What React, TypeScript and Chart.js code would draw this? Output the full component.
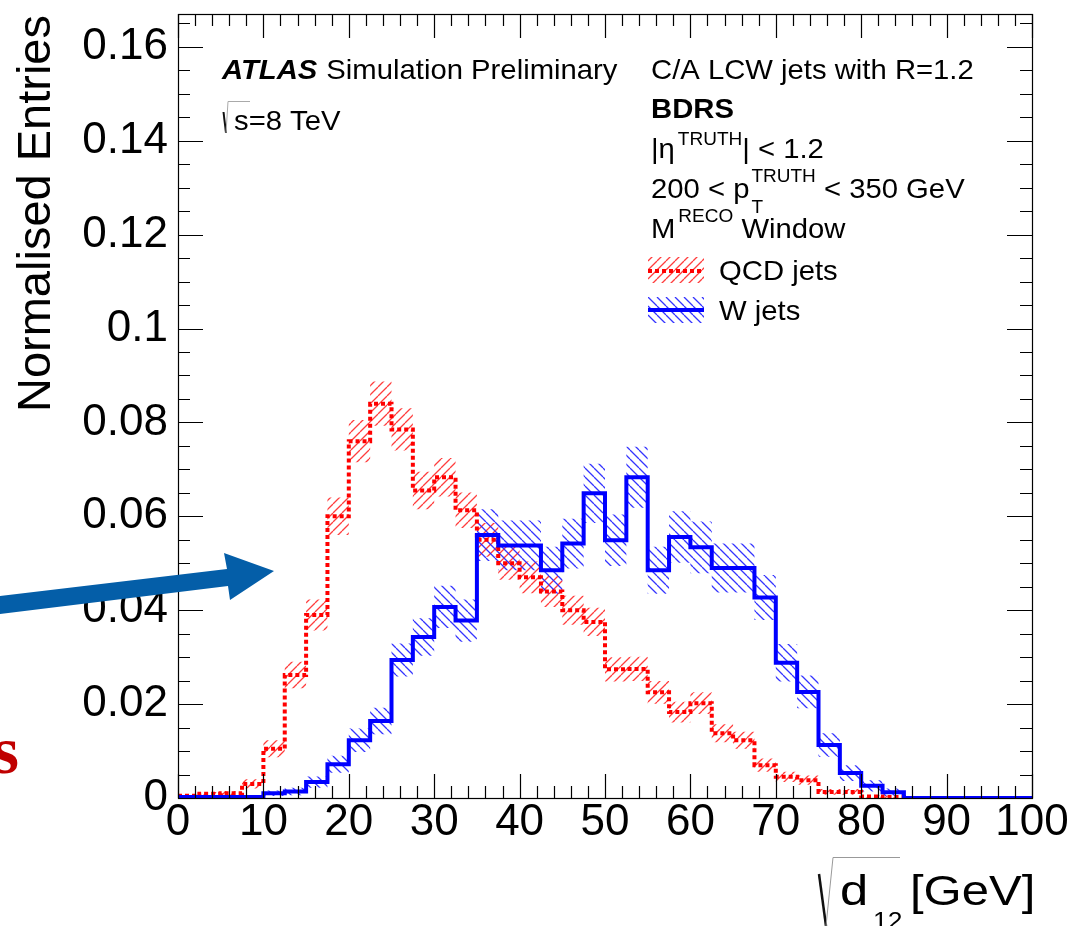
import React, { useEffect, useRef } from 'react';
import { Chart, registerables } from 'chart.js';

Chart.register(...registerables);

// ---- data ----
const BIN_EDGES = [0, 2.5, 5, 7.5, 10, 12.5, 15, 17.5, 20, 22.5, 25, 27.5, 30, 32.5, 35, 37.5, 40, 42.5, 45, 47.5, 50, 52.5, 55, 57.5, 60, 62.5, 65, 67.5, 70, 72.5, 75, 77.5, 80, 82.5, 85, 87.5, 90, 92.5, 95, 97.5, 100];

const QCD = [0.0005, 0.0009, 0.0010, 0.0030, 0.0105, 0.0262, 0.0390, 0.0600, 0.0760, 0.0840, 0.0785, 0.0655, 0.0683, 0.0613, 0.0550, 0.0500, 0.0470, 0.0440, 0.0400, 0.0375, 0.0274, 0.0275, 0.0225, 0.0183, 0.0202, 0.0138, 0.0123, 0.0070, 0.0045, 0.0038, 0.0013, 0.0013, 0.0003, 0.0002, 0, 0, 0, 0, 0, 0];
const QCD_ERR = [0.0003, 0.0004, 0.0005, 0.0010, 0.0018, 0.0028, 0.0033, 0.0040, 0.0045, 0.0047, 0.0045, 0.0040, 0.0041, 0.0038, 0.0036, 0.0035, 0.0034, 0.0033, 0.0031, 0.0030, 0.0026, 0.0026, 0.0024, 0.0022, 0.0023, 0.0019, 0.0018, 0.0014, 0.0011, 0.0010, 0.0006, 0.0006, 0.0003, 0.0002, 0, 0, 0, 0, 0, 0];

const WJETS = [0.0002, 0.0002, 0.0002, 0.0002, 0.0010, 0.0014, 0.0034, 0.0072, 0.0123, 0.0164, 0.0294, 0.0343, 0.0407, 0.0378, 0.0560, 0.0538, 0.0538, 0.0485, 0.0542, 0.0649, 0.0549, 0.0683, 0.0485, 0.0556, 0.0534, 0.0490, 0.0490, 0.0427, 0.0288, 0.0226, 0.0113, 0.0053, 0.0026, 0.0012, 0, 0, 0, 0, 0, 0];
const WJETS_ERR = [0, 0, 0, 0, 0.0006, 0.0008, 0.0012, 0.0018, 0.0025, 0.0028, 0.0035, 0.0040, 0.0045, 0.0045, 0.0055, 0.0053, 0.0053, 0.0050, 0.0053, 0.0063, 0.0055, 0.0065, 0.0050, 0.0055, 0.0055, 0.0052, 0.0052, 0.0048, 0.0040, 0.0035, 0.0025, 0.0017, 0.0012, 0.0008, 0, 0, 0, 0, 0, 0];

const X_TICKS = [0, 10, 20, 30, 40, 50, 60, 70, 80, 90, 100];
const Y_TICKS = [0, 0.02, 0.04, 0.06, 0.08, 0.1, 0.12, 0.14, 0.16];
const X_MIN = 0;
const X_MAX = 100;
const Y_MAX = 0.167;

const FONT = '"Liberation Sans", Arial, Helvetica, sans-serif';

function steps(vals: number[]) {
  const pts = vals.map((v, i) => ({ x: BIN_EDGES[i], y: v }));
  pts.push({ x: BIN_EDGES[BIN_EDGES.length - 1], y: vals[vals.length - 1] });
  return pts;
}

function makeHatch(color: string, dir: '/' | '\\') {
  const s = 9;
  const c = document.createElement('canvas');
  c.width = s;
  c.height = s;
  const g = c.getContext('2d')!;
  g.strokeStyle = color;
  g.lineWidth = 1.3;
  g.beginPath();
  for (const k of [-s, 0, s]) {
    if (dir === '/') {
      g.moveTo(k, s);
      g.lineTo(k + s, 0);
    } else {
      g.moveTo(k, 0);
      g.lineTo(k + s, s);
    }
  }
  g.stroke();
  return g.createPattern(c, 'repeat')!;
}

function stretched(ctx: CanvasRenderingContext2D, text: string, x: number, y: number, font: string, sx: number) {
  ctx.save();
  ctx.translate(x, y);
  ctx.scale(sx, 1);
  ctx.font = font;
  ctx.fillText(text, 0, 0);
  const w = ctx.measureText(text).width * sx;
  ctx.restore();
  return w;
}

export default function App() {
  const ref = useRef<HTMLCanvasElement | null>(null);

  useEffect(() => {
    const canvas = ref.current;
    if (!canvas) return;
    const redHatch = makeHatch('rgba(255,40,40,0.9)', '/');
    const blueHatch = makeHatch('rgba(30,30,255,0.9)', '\\');

    const qcdUp = QCD.map((v, i) => v + QCD_ERR[i]);
    const qcdLo = QCD.map((v, i) => Math.max(0, v - QCD_ERR[i]));
    const wUp = WJETS.map((v, i) => v + WJETS_ERR[i]);
    const wLo = WJETS.map((v, i) => Math.max(0, v - WJETS_ERR[i]));

    const clear = 'rgba(0,0,0,0)';

    const decor = {
      id: 'decor',
      afterDraw(chart: any) {
        const ctx: CanvasRenderingContext2D = chart.ctx;
        const { left, right, top, bottom } = chart.chartArea;
        const xs = chart.scales.x;
        const ys = chart.scales.y;
        ctx.save();

        // ticks (inside the frame, ROOT style)
        ctx.strokeStyle = '#000';
        ctx.lineWidth = 1.2;
        ctx.beginPath();
        for (let i = 0; i <= 50; i++) {
          const v = i * 2;
          const px = Math.round(xs.getPixelForValue(v)) + 0.5;
          const len = i % 5 === 0 ? 24 : 12;
          ctx.moveTo(px, bottom);
          ctx.lineTo(px, bottom - len);
          ctx.moveTo(px, top);
          ctx.lineTo(px, top + len);
        }
        for (let i = 0; i * 0.005 <= Y_MAX; i++) {
          const py = Math.round(ys.getPixelForValue(i * 0.005)) + 0.5;
          const len = i % 4 === 0 ? 25 : 12;
          ctx.moveTo(left, py);
          ctx.lineTo(left + len, py);
          ctx.moveTo(right, py);
          ctx.lineTo(right - len, py);
        }
        ctx.stroke();
        ctx.lineWidth = 1.2;
        ctx.strokeRect(left + 0.5, top + 0.5, right - left, bottom - top);

        ctx.fillStyle = '#000';
        ctx.textAlign = 'left';
        ctx.textBaseline = 'alphabetic';

        // Y title
        ctx.save();
        ctx.translate(50, 15);
        ctx.rotate(-Math.PI / 2);
        ctx.font = `47px ${FONT}`;
        ctx.textAlign = 'right';
        ctx.fillText('Normalised Entries', 0, 0);
        ctx.restore();

        // X title
        stretched(ctx, 'd', 840, 905, `43px ${FONT}`, 1.18);
        stretched(ctx, '12', 873, 929, `24px ${FONT}`, 1.1);
        stretched(ctx, '[GeV]', 910, 905, `43px ${FONT}`, 1.14);
        ctx.strokeStyle = '#111';
        ctx.lineWidth = 2.5;
        ctx.beginPath();
        ctx.moveTo(819, 874);
        ctx.lineTo(826, 926);
        ctx.stroke();
        ctx.strokeStyle = '#999';
        ctx.lineWidth = 1;
        ctx.beginPath();
        ctx.moveTo(826, 926);
        ctx.lineTo(833, 857.5);
        ctx.lineTo(900, 857.5);
        ctx.stroke();

        // ATLAS label
        const FS = 28;
        const SX = 1.045;
        const F = `${FS}px ${FONT}`;
        ctx.fillStyle = '#000';
        const aw = stretched(ctx, 'ATLAS', 222, 79, `italic bold ${FS}px ${FONT}`, SX);
        stretched(ctx, 'Simulation Preliminary', 222 + aw + 9, 79, F, SX);

        // sqrt(s)
        ctx.strokeStyle = '#111';
        ctx.lineWidth = 2;
        ctx.beginPath();
        ctx.moveTo(223.5, 112);
        ctx.lineTo(226, 133);
        ctx.stroke();
        ctx.strokeStyle = '#aaa';
        ctx.lineWidth = 1;
        ctx.beginPath();
        ctx.moveTo(226, 133);
        ctx.lineTo(228, 101.5);
        ctx.lineTo(250, 101.5);
        ctx.stroke();
        stretched(ctx, 's=8 TeV', 234, 130, F, SX);

        // right block
        const X0 = 651;
        const SUPF = `19px ${FONT}`;
        stretched(ctx, 'C/A LCW jets with R=1.2', X0, 79, F, SX);
        stretched(ctx, 'BDRS', X0, 118, `bold ${FS}px ${FONT}`, SX);

        // |eta^TRUTH| < 1.2
        let x = X0 + stretched(ctx, '|\u03b7', X0, 158, F, SX) + 3;
        x += stretched(ctx, 'TRUTH', x, 145, SUPF, 1.0);
        stretched(ctx, '| < 1.2', x, 158, F, SX);

        // 200 < pT^TRUTH < 350 GeV
        x = X0 + stretched(ctx, '200 < p', X0, 198, F, SX) + 2;
        stretched(ctx, 'T', x, 213, SUPF, 1.0);
        x += stretched(ctx, 'TRUTH', x, 182, SUPF, 1.0);
        stretched(ctx, ' < 350 GeV', x, 198, F, SX);

        // M^RECO Window
        x = X0 + stretched(ctx, 'M', X0, 238, F, SX) + 3;
        x += stretched(ctx, 'RECO', x, 222, SUPF, 1.0);
        stretched(ctx, ' Window', x, 238, F, SX);

        // legend
        const LX = 648, LW = 56;
        ctx.fillStyle = redHatch;
        ctx.fillRect(LX, 257, LW, 26);
        ctx.fillStyle = blueHatch;
        ctx.fillRect(LX, 297, LW, 26);
        ctx.lineWidth = 4;
        ctx.strokeStyle = '#ff0000';
        ctx.setLineDash([4, 3]);
        ctx.beginPath();
        ctx.moveTo(LX, 271);
        ctx.lineTo(LX + LW, 271);
        ctx.stroke();
        ctx.setLineDash([]);
        ctx.strokeStyle = '#0000ff';
        ctx.beginPath();
        ctx.moveTo(LX, 310);
        ctx.lineTo(LX + LW, 310);
        ctx.stroke();
        ctx.fillStyle = '#000';
        stretched(ctx, 'QCD jets', 719, 280, F, SX);
        stretched(ctx, 'W jets', 719, 320, F, SX);

        // slide overlay: arrow
        ctx.fillStyle = '#045ea8';
        ctx.beginPath();
        ctx.moveTo(0, 596);
        ctx.lineTo(227, 569);
        ctx.lineTo(224, 553);
        ctx.lineTo(274, 571);
        ctx.lineTo(230, 600);
        ctx.lineTo(228, 586);
        ctx.lineTo(0, 614);
        ctx.closePath();
        ctx.fill();

        // slide overlay: cut-off letter
        ctx.fillStyle = '#c00000';
        ctx.font = 'bold 68px "Liberation Serif", "Times New Roman", serif';
        ctx.textAlign = 'right';
        ctx.fillText('s', 19, 773);

        ctx.restore();
      },
    };

    const chart = new Chart(canvas, {
      type: 'line',
      data: {
        datasets: [
          { data: steps(qcdUp), stepped: true, fill: false, borderColor: clear, borderWidth: 1, pointRadius: 0, order: 4 },
          { data: steps(qcdLo), stepped: true, fill: '-1', backgroundColor: redHatch, borderColor: clear, borderWidth: 1, pointRadius: 0, order: 4 },
          { data: steps(wUp), stepped: true, fill: false, borderColor: clear, borderWidth: 1, pointRadius: 0, order: 3 },
          { data: steps(wLo), stepped: true, fill: '-1', backgroundColor: blueHatch, borderColor: clear, borderWidth: 1, pointRadius: 0, order: 3 },
          { label: 'QCD jets', data: steps(QCD), stepped: true, fill: false, borderColor: '#ff0000', borderWidth: 4, borderDash: [4, 3], borderCapStyle: 'butt', pointRadius: 0, order: 2 },
          { label: 'W jets', data: steps(WJETS), stepped: true, fill: false, borderColor: '#0000ff', borderWidth: 4, pointRadius: 0, order: 1 },
        ] as any,
      },
      options: {
        responsive: false,
        devicePixelRatio: 1,
        animation: false,
        events: [],
        layout: { padding: { top: 14, right: 43, left: 0, bottom: 0 } },
        plugins: { legend: { display: false }, tooltip: { enabled: false } },
        scales: {
          x: {
            type: 'linear',
            min: X_MIN,
            max: X_MAX,
            grid: { display: false, drawTicks: false },
            border: { display: false },
            afterBuildTicks: (s: any) => { s.ticks = X_TICKS.map((v) => ({ value: v })); },
            afterFit: (s: any) => { s.height = 128; s.paddingLeft = 0; s.paddingRight = 0; s.paddingTop = 0; s.paddingBottom = 0; },
            ticks: {
              autoSkip: false,
              maxRotation: 0,
              padding: 3,
              color: '#000',
              font: { family: FONT, size: 44, lineHeight: 1 },
              callback: (v: any) => String(v),
            },
          },
          y: {
            type: 'linear',
            min: 0,
            max: Y_MAX,
            grid: { display: false, drawTicks: false },
            border: { display: false },
            afterBuildTicks: (s: any) => { s.ticks = Y_TICKS.map((v) => ({ value: v })); },
            afterFit: (s: any) => { s.width = 178; s.paddingLeft = 0; s.paddingRight = 0; s.paddingTop = 0; s.paddingBottom = 0; },
            ticks: {
              padding: 10,
              color: '#000',
              font: { family: FONT, size: 44, lineHeight: 1 },
              callback: (v: any) => String(parseFloat(Number(v).toFixed(3))),
            },
          },
        },
      } as any,
      plugins: [decor],
    });
    return () => chart.destroy();
  }, []);

  return (
    <div style={{ position: 'absolute', left: 0, top: 0, width: 1075, height: 926, background: '#fff' }}>
      <canvas ref={ref} width={1075} height={926} style={{ display: 'block' }} />
    </div>
  );
}
